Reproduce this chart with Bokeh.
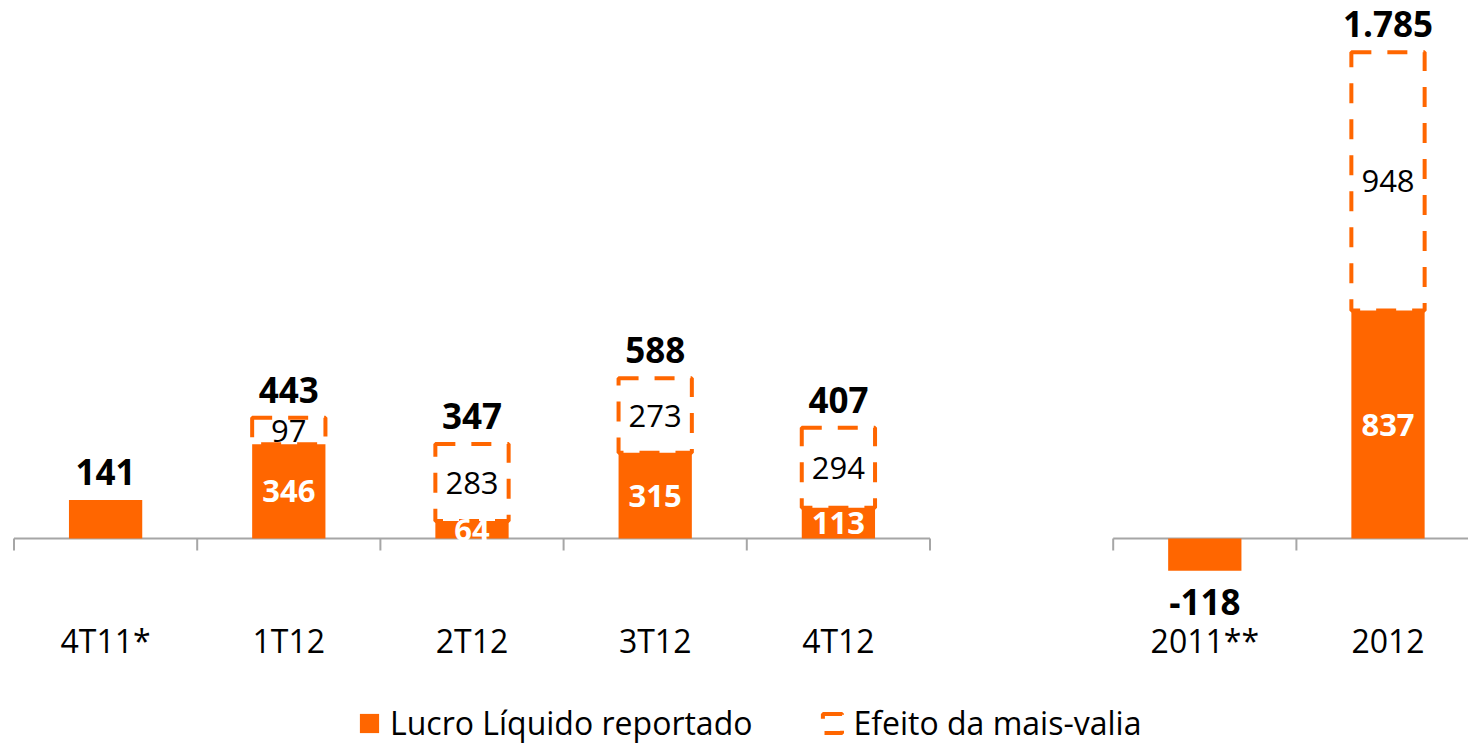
from bokeh.plotting import figure
from bokeh.models import Range1d, Legend, LegendItem
from bokeh.embed import file_html
from bokeh.resources import INLINE
from bokeh.core.properties import value

# ---- data ----
categories = ["4T11*", "1T12", "2T12", "3T12", "4T12", "2011**", "2012"]
lucro = [141, 346, 64, 315, 113, -118, 837]          # Lucro Líquido reportado
efeito = [0, 97, 283, 273, 294, 0, 948]              # Efeito da mais-valia
left_group = 5   # quarterly categories, then a gap, then annual categories
gap = 1

ORANGE = "#FF6600"
GREY = "#A6A6A6"
FONT = "Open Sans"

pos = [i + 0.5 if i < left_group else i + gap + 0.5 for i in range(len(categories))]
totals = [a + b for a, b in zip(lucro, efeito)]


def fmt(v):
    return f"{v:,}".replace(",", ".")


FRAME_W, FRAME_H = 1468, 744
PX_PER_CAT = 183.2
PX_PER_UNIT = 0.2724
BASE_PX = 538          # baseline distance from frame top
X0 = -13.5 / PX_PER_CAT
X1 = X0 + FRAME_W / PX_PER_CAT
Y1 = BASE_PX / PX_PER_UNIT
Y0 = -(FRAME_H - BASE_PX) / PX_PER_UNIT
upp = 1 / PX_PER_UNIT   # data units per pixel

p = figure(width=FRAME_W, height=FRAME_H,
           x_range=Range1d(X0, X1), y_range=Range1d(Y0, Y1),
           output_backend="svg", toolbar_location=None,
           x_axis_location=None, y_axis_location=None,
           min_border=0, outline_line_color=None, background_fill_color="white")
p.grid.visible = False

# baseline segments and ticks
n_total = len(categories) + gap
p.segment(x0=[0, left_group + gap], x1=[left_group, n_total], y0=[0, 0], y1=[0, 0],
          line_color=GREY, line_width=2)
bounds = list(range(0, left_group + 1)) + list(range(left_group + gap, n_total + 1))
p.segment(x0=bounds, x1=bounds, y0=[0] * len(bounds), y1=[-12 * upp] * len(bounds),
          line_color=GREY, line_width=2)

# bars
bars = p.vbar(x=pos, bottom=0, top=lucro, width=0.4, fill_color=ORANGE, line_color=None)

e_idx = [i for i, e in enumerate(efeito) if e > 0]
dashed = p.vbar(x=[pos[i] for i in e_idx], bottom=[lucro[i] for i in e_idx],
                top=[totals[i] for i in e_idx], width=0.4, fill_color=None,
                line_color=ORANGE, line_width=4, line_dash="20 16")

# total labels
ty = [t + 28 * upp if t >= 0 else t - 31 * upp for t in totals]
p.text(x=pos, y=ty, text=[fmt(t) for t in totals], text_align="center",
       text_baseline="middle", text_font=value(FONT), text_font_style="bold",
       text_font_size="35px", text_color="black")

# inner labels (white bold)
p.text(x=[pos[i] for i in e_idx], y=[lucro[i] / 2 for i in e_idx],
       text=[fmt(lucro[i]) for i in e_idx], text_align="center", text_baseline="middle",
       text_font=value(FONT), text_font_style="bold", text_font_size="31px",
       text_color="white")

# efeito labels
p.text(x=[pos[i] for i in e_idx], y=[lucro[i] + efeito[i] / 2 for i in e_idx],
       text=[fmt(efeito[i]) for i in e_idx], text_align="center", text_baseline="middle",
       text_font=value(FONT), text_font_size="31px", text_color="black")

# category labels
p.text(x=pos, y=[-102 * upp] * len(pos), text=categories, text_align="center",
       text_baseline="middle", text_font=value(FONT), text_font_size="32px",
       text_color="black")

legend = Legend(items=[LegendItem(label="Lucro Líquido reportado", renderers=[bars]),
                       LegendItem(label="Efeito da mais-valia", renderers=[dashed])],
                orientation="horizontal", location=(357, 0),
                glyph_width=24, glyph_height=24, label_text_font=FONT,
                label_text_font_size="32px", label_text_color="black",
                spacing=68, label_standoff=9, border_line_color=None,
                background_fill_alpha=0, padding=0, margin=0)
p.add_layout(legend, "center")

open("out.html", "w").write(file_html(p, INLINE))
